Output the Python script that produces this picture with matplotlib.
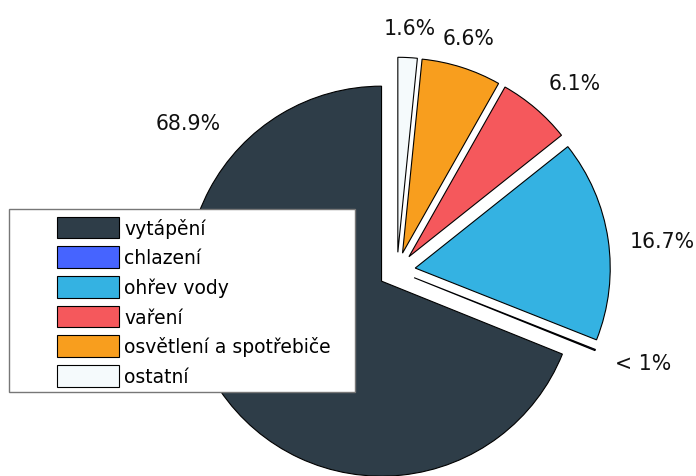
import matplotlib
matplotlib.use("Agg")
import matplotlib.pyplot as plt
from matplotlib.patches import Rectangle

categories = ["vytápění", "chlazení", "ohřev vody", "vaření", "osvětlení a spotřebiče", "ostatní"]
values = [68.9, 0.1, 16.7, 6.1, 6.6, 1.6]
pct_labels = ["68.9%", "< 1%", "16.7%", "6.1%", "6.6%", "1.6%"]

colors = ["#2e3d48", "#4664ff", "#34b2e2", "#f5585c", "#f89e1e", "#f5fafc"]
explode = [0.095] * len(values)
# label centres in data units (pie radius = 1)
label_pos = [(-1.070, 0.756), (1.264, -0.475), (1.361, 0.152),
             (0.913, 0.961), (0.370, 1.193), (0.067, 1.247)]

W, H = 696, 477
fig = plt.figure(figsize=(W / 100, H / 100), dpi=100)
ax = fig.add_axes([0, 0, 1, 1])

wedges, texts = ax.pie(values, labels=pct_labels, colors=colors, explode=explode,
                       startangle=90, counterclock=True, labeldistance=1.2,
                       wedgeprops=dict(edgecolor="black", linewidth=0.8),
                       textprops=dict(fontsize=14.8, color="#111111"))
for t, (x, y) in zip(texts, label_pos):
    t.set_position((x, y))
    t.set_ha("center")
    t.set_va("center")

# legend frame
frame = Rectangle((9 / W, 1 - 392.7 / H), (355 - 9) / W, (392.7 - 210) / H,
                  transform=fig.transFigure, facecolor="white", edgecolor="#777777",
                  linewidth=1.0, zorder=4)
ax.add_patch(frame)
leg = ax.legend(wedges, categories, loc="upper left",
                bbox_to_anchor=(57 / W, 1 - 217.5 / H), bbox_transform=fig.transFigure,
                frameon=False, borderpad=0, borderaxespad=0, fontsize=13.5,
                handlelength=3.33, handleheight=1.4, handletextpad=0.25,
                labelspacing=0.43)
leg.set_zorder(5)

# pixel mapping: centre at (396.9, 271.8), 195 px per unit
cx, cy, s = 396.9, 271.8, 195.0
ax.set_xlim(-cx / s, (W - cx) / s)
ax.set_ylim(-(H - cy) / s, cy / s)
ax.set_aspect("auto")
ax.axis("off")

fig.savefig("out.png", dpi=100)
